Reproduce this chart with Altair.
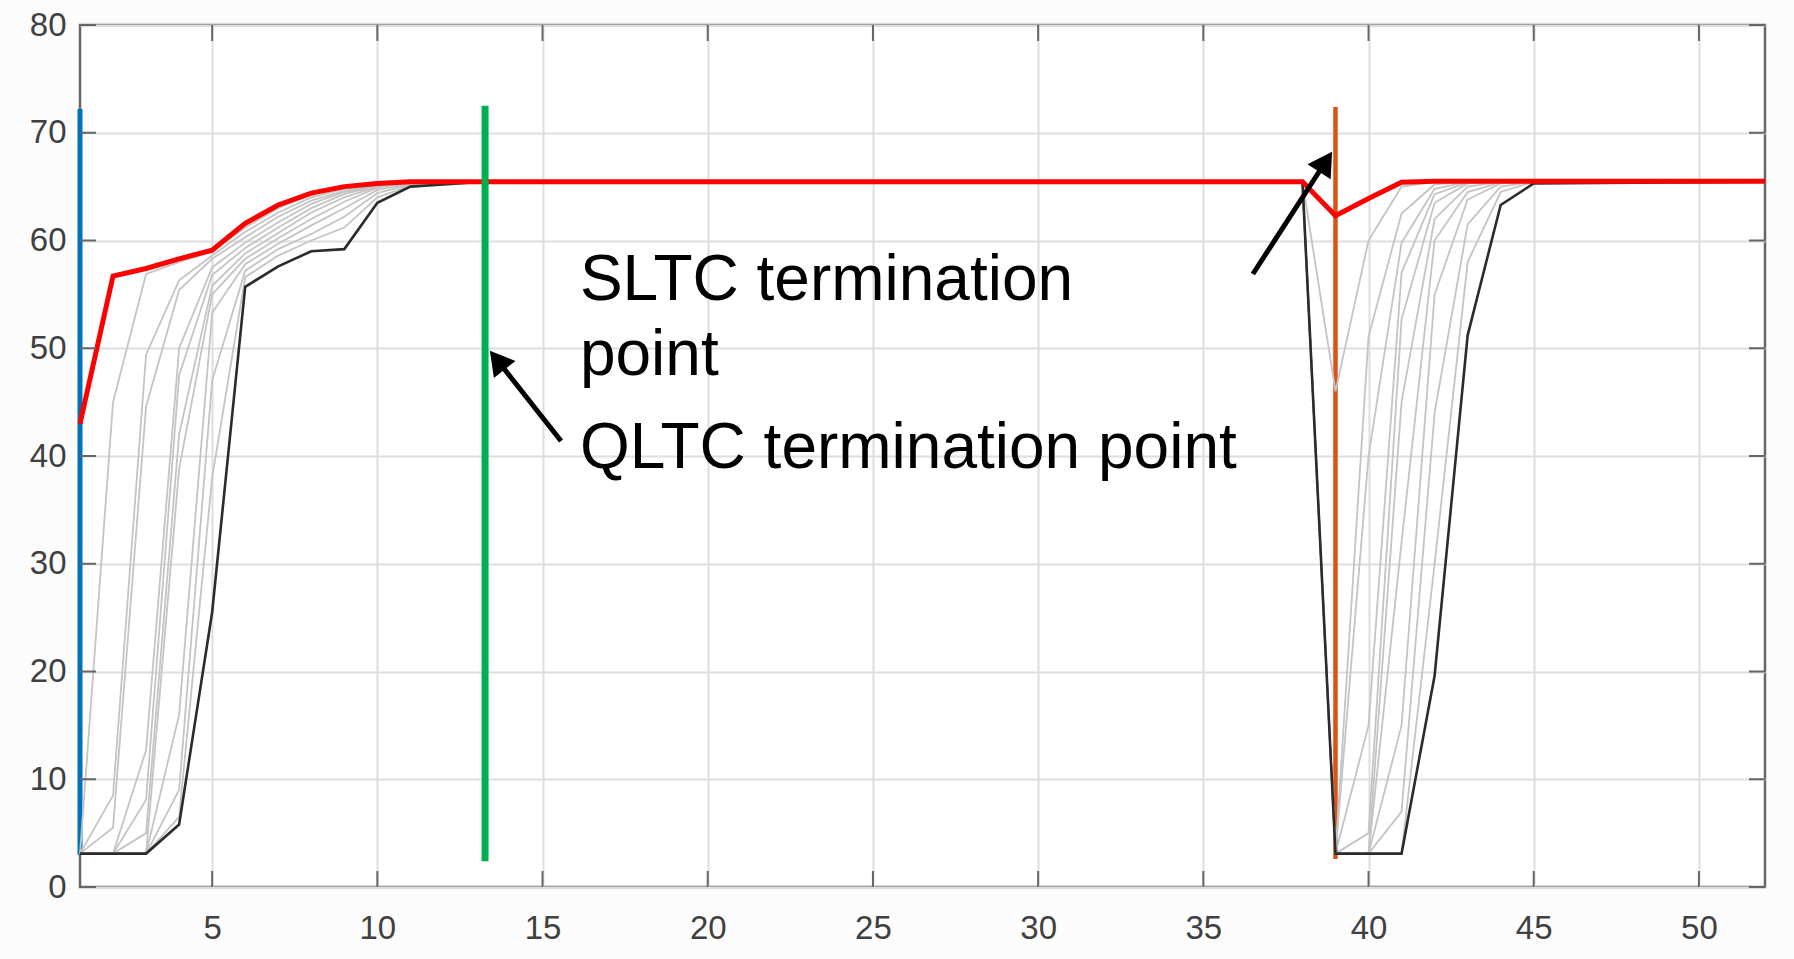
import altair as alt
import pandas as pd

# ---------------- data ----------------
x_ticks = [5, 10, 15, 20, 25, 30, 35, 40, 45, 50]
y_ticks = [0, 10, 20, 30, 40, 50, 60, 70, 80]

red_x = [1, 2, 3, 4, 5, 6, 7, 8, 9, 10, 11, 38, 39, 40, 41, 42, 52]
red_y = [43.0, 56.7, 57.4, 58.3, 59.1, 61.6, 63.3, 64.4, 65.0, 65.3, 65.45,
         65.45, 62.3, 63.9, 65.4, 65.5, 65.5]

black_x = [1, 3, 4, 5, 6, 7, 8, 9, 10, 11, 12, 13, 38, 39, 41, 42, 43, 44, 45, 52]
black_y = [3.1, 3.1, 5.8, 25.5, 55.7, 57.6, 59.0, 59.2, 63.5, 65.0, 65.2, 65.4,
           65.45, 3.1, 3.1, 19.6, 51.2, 63.3, 65.3, 65.45]

gray_left_x = [1, 2, 3, 4, 5, 6, 7, 8, 9, 10, 11, 12, 13]
gray_left = [
    [3.1, 45.0, 56.9, 58.0, 59.0, 61.2, 63.0, 64.3, 64.9, 65.3, 65.45, 65.45, 65.45],
    [3.1, 8.5, 49.4, 56.3, 58.6, 60.8, 62.6, 64.0, 64.8, 65.2, 65.45, 65.45, 65.45],
    [3.1, 5.5, 44.6, 55.4, 58.3, 60.3, 62.2, 63.7, 64.6, 65.2, 65.45, 65.45, 65.45],
    [3.1, 3.1, 12.7, 50.0, 57.5, 59.8, 61.7, 63.4, 64.5, 65.1, 65.45, 65.45, 65.45],
    [3.1, 3.1, 8.1, 47.5, 56.8, 59.3, 61.2, 63.0, 64.3, 65.1, 65.45, 65.45, 65.45],
    [3.1, 3.1, 5.0, 42.0, 55.8, 58.8, 60.7, 62.6, 64.0, 65.0, 65.4, 65.45, 65.45],
    [3.1, 3.1, 3.1, 38.8, 55.0, 58.3, 60.2, 62.0, 63.6, 64.9, 65.4, 65.45, 65.45],
    [3.1, 3.1, 3.1, 16.0, 53.3, 57.8, 59.7, 61.4, 63.0, 64.7, 65.3, 65.4, 65.45],
    [3.1, 3.1, 3.1, 9.0, 47.0, 57.2, 59.2, 60.6, 62.2, 64.4, 65.2, 65.4, 65.45],
    [3.1, 3.1, 3.1, 6.5, 38.0, 56.6, 58.6, 60.0, 61.2, 64.0, 65.1, 65.4, 65.45],
]
gray_right_x = [38, 39, 40, 41, 42, 43, 44, 45, 46, 52]
gray_right = [
    [65.45, 46.0, 60.0, 65.0, 65.45, 65.45, 65.45, 65.45, 65.45, 65.45],
    [65.45, 3.1, 51.1, 62.5, 65.2, 65.45, 65.45, 65.45, 65.45, 65.45],
    [65.45, 3.1, 40.0, 59.8, 64.8, 65.45, 65.45, 65.45, 65.45, 65.45],
    [65.45, 3.1, 15.0, 57.0, 64.3, 65.4, 65.45, 65.45, 65.45, 65.45],
    [65.45, 3.1, 5.0, 52.7, 63.5, 65.3, 65.45, 65.45, 65.45, 65.45],
    [65.45, 3.1, 3.1, 45.0, 62.0, 65.0, 65.45, 65.45, 65.45, 65.45],
    [65.45, 3.1, 3.1, 32.0, 60.0, 64.5, 65.4, 65.45, 65.45, 65.45],
    [65.45, 3.1, 3.1, 15.0, 55.0, 63.8, 65.3, 65.45, 65.45, 65.45],
    [65.45, 3.1, 3.1, 7.0, 44.0, 61.5, 65.0, 65.45, 65.45, 65.45],
    [65.45, 3.1, 3.1, 3.1, 30.0, 58.0, 64.5, 65.45, 65.45, 65.45],
]

# vertical markers: blue start, green QLTC termination, orange SLTC termination
vline_name = ["start", "QLTC", "SLTC"]
vline_x = [1.0, 13.26, 39.0]
vline_y0 = [3.0, 2.4, 2.6]
vline_y1 = [72.2, 72.5, 72.4]

# annotation texts
text_lines = ["SLTC termination", "point", "QLTC termination point"]
text_x = [16.13, 16.13, 16.13]
text_y = [54.48, 47.52, 38.89]

# arrows: tail -> head
arrow_x0 = [15.56, 36.50]
arrow_y0 = [41.39, 56.89]
arrow_x1 = [13.63, 38.70]
arrow_y1 = [48.90, 67.31]
arrow_angle = [321.7, 32.9]

# ---------------- tables ----------------
rows = []
for i, (lv, rv) in enumerate(zip(gray_left, gray_right)):
    for xx, yy in zip(gray_left_x + gray_right_x, lv + rv):
        rows.append({"series": f"g{i}", "x": xx, "y": yy})
gray_df = pd.DataFrame(rows)
red_df = pd.DataFrame({"x": red_x, "y": red_y})
black_df = pd.DataFrame({"x": black_x, "y": black_y})
vline_df = pd.DataFrame({"name": vline_name, "x": vline_x, "y0": vline_y0, "y1": vline_y1})
text_df = pd.DataFrame({"t": text_lines, "x": text_x, "y": text_y})
arrow_df = pd.DataFrame({"x0": arrow_x0, "y0": arrow_y0, "x1": arrow_x1,
                         "y1": arrow_y1, "ang": arrow_angle})
xt_df = pd.DataFrame({"x": x_ticks})
yt_df = pd.DataFrame({"y": y_ticks})

W, H = 1685, 862
FONT = "Liberation Sans"
xscale = alt.Scale(domain=[1, 52], nice=False, zero=False)
yscale = alt.Scale(domain=[0, 80], nice=False, zero=False)

x_axis = alt.Axis(values=x_ticks, grid=True, gridColor="#dedede", gridWidth=2,
                  ticks=False, tickSize=0, domain=False, labelFont=FONT,
                  labelFontSize=33, labelColor="#404040", labelPadding=25,
                  labelFlush=False, title=None)
y_axis = alt.Axis(values=y_ticks, grid=True, gridColor="#dedede", gridWidth=2,
                  ticks=False, tickSize=0, domain=False, labelFont=FONT,
                  labelFontSize=33, labelColor="#404040", labelPadding=14,
                  labelFlush=False, title=None)


def X(f):
    return alt.X(f, scale=xscale, axis=x_axis, title=None)


def Y(f):
    return alt.Y(f, scale=yscale, axis=y_axis, title=None)


color_map = {"start": "#0072BD", "QLTC": "#00B050", "SLTC": "#D95319"}
width_map = {"start": 5, "QLTC": 7, "SLTC": 4.5}


def vrule(name):
    return alt.Chart(vline_df[vline_df.name == name]).mark_rule(
        color=color_map[name], strokeWidth=width_map[name], strokeCap="butt"
    ).encode(x=X("x:Q"), y=Y("y0:Q"), y2="y1:Q")


gray = alt.Chart(gray_df).mark_line(color="#c4c4c4", strokeWidth=1.8).encode(
    x=X("x:Q"), y=Y("y:Q"), detail="series:N", order="x:Q")
black = alt.Chart(black_df).mark_line(color="#2b2b2b", strokeWidth=2.6).encode(
    x=X("x:Q"), y=Y("y:Q"), order="x:Q")
red = alt.Chart(red_df).mark_line(color="#ff0000", strokeWidth=5).encode(
    x=X("x:Q"), y=Y("y:Q"), order="x:Q")

shafts = alt.Chart(arrow_df).mark_rule(color="black", strokeWidth=5).encode(
    x=X("x0:Q"), y=Y("y0:Q"), x2="x1:Q", y2="y1:Q")
heads = alt.Chart(arrow_df).mark_point(
    shape="triangle-up", filled=True, size=760, color="black", opacity=1
).encode(x=X("x1:Q"), y=Y("y1:Q"), angle=alt.Angle("ang:Q", scale=None))

texts = alt.Chart(text_df).mark_text(
    align="left", baseline="alphabetic", font=FONT, fontSize=64, color="black"
).encode(x=X("x:Q"), y=Y("y:Q"), text="t:N")

tick_col = "#666666"
xt_bottom = alt.Chart(xt_df).mark_tick(orient="vertical", size=16, thickness=2,
                                       color=tick_col, opacity=1).encode(
    x=X("x:Q"), y=alt.value(H - 8))
xt_top = alt.Chart(xt_df).mark_tick(orient="vertical", size=16, thickness=2,
                                    color=tick_col, opacity=1).encode(
    x=X("x:Q"), y=alt.value(8))
yt_left = alt.Chart(yt_df).mark_tick(orient="horizontal", size=16, thickness=2,
                                     color=tick_col, opacity=1).encode(
    y=Y("y:Q"), x=alt.value(8))
yt_right = alt.Chart(yt_df).mark_tick(orient="horizontal", size=16, thickness=2,
                                      color=tick_col, opacity=1).encode(
    y=Y("y:Q"), x=alt.value(W - 8))

chart = alt.layer(
    vrule("SLTC"), vrule("start"), gray, black, red, vrule("QLTC"),
    shafts, heads, texts, xt_bottom, xt_top, yt_left, yt_right
).properties(
    width=W, height=H,
    autosize=alt.AutoSizeParams(type="none"),
    padding={"left": 80, "top": 25, "right": 29, "bottom": 72},
    background="#fcfcfc",
).configure_view(
    stroke="#666666", strokeWidth=2.5, fill="white"
)

chart.save("out.html", embed_options={"renderer": "svg", "actions": False})
